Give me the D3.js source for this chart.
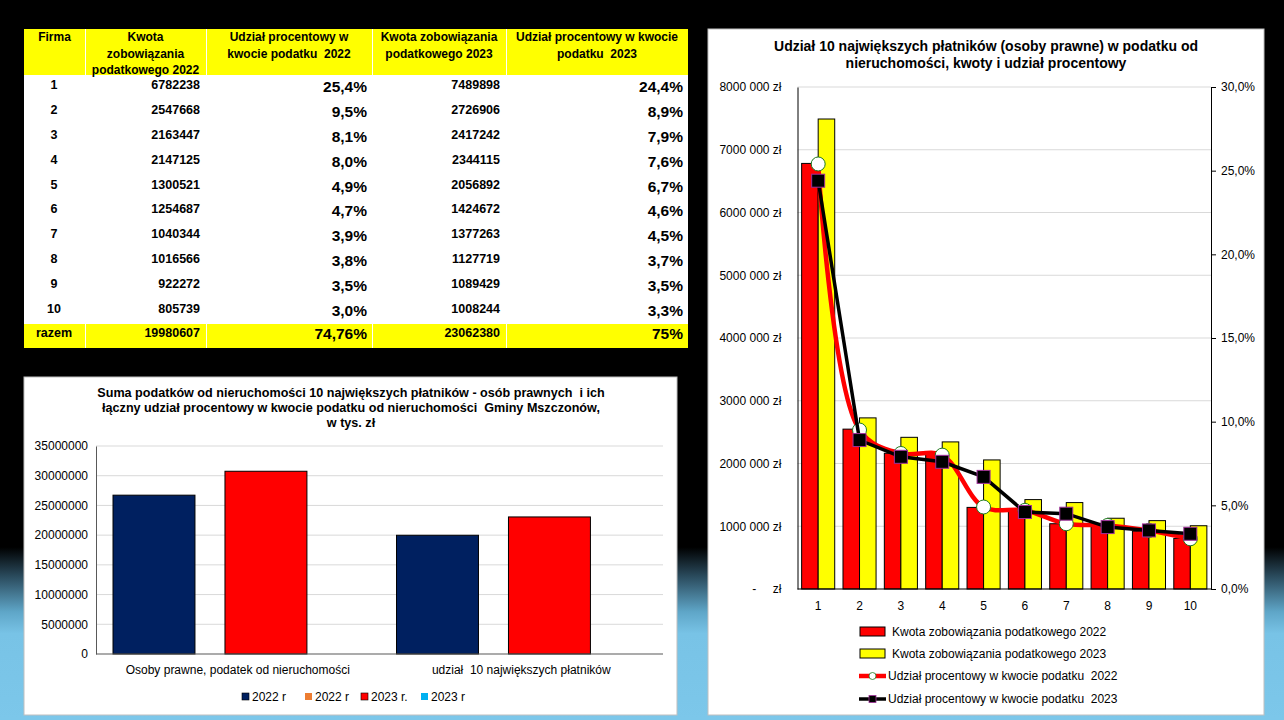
<!DOCTYPE html>
<html>
<head>
<meta charset="utf-8">
<script src="https://cdn.jsdelivr.net/npm/d3@7"></script>
<style>
  html, body { margin: 0; padding: 0; }
  body {
    width: 1284px; height: 720px; overflow: hidden;
    background: linear-gradient(to bottom, #000 0%, #000 76%, #2a4a5c 80%, #5fa6c8 85%, #78c3e6 88%, #7cc7ea 100%);
  }
  text { white-space: pre; }
  .tbl { font-family: "Liberation Sans", Arial, sans-serif; font-weight: bold; fill: #000; }
  .ch { font-family: "Liberation Sans", Arial, sans-serif; fill: #000; }
</style>
</head>
<body>
<div id="chart"></div>
<script>
// ---- data ----
var firms = ["1", "2", "3", "4", "5", "6", "7", "8", "9", "10"];
var kwota2022 = [6782238, 2547668, 2163447, 2147125, 1300521, 1254687, 1040344, 1016566, 922272, 805739];
var kwota2023 = [7489898, 2726906, 2417242, 2344115, 2056892, 1424672, 1377263, 1127719, 1089429, 1008244];
var udzial2022 = [25.4, 9.5, 8.1, 8.0, 4.9, 4.7, 3.9, 3.8, 3.5, 3.0];
var udzial2023 = [24.4, 8.9, 7.9, 7.6, 6.7, 4.6, 4.5, 3.7, 3.5, 3.3];
var razemKwota2022 = 19980607, razemUdzial2022 = "74,76%";
var razemKwota2023 = 23062380, razemUdzial2023 = "75%";

var tableHeaders = [
  ["Firma"],
  ["Kwota", "zobowiązania", "podatkowego 2022"],
  ["Udział procentowy w", "kwocie podatku  2022"],
  ["Kwota zobowiązania", "podatkowego 2023"],
  ["Udział procentowy w kwocie", "podatku  2023"]
];

var sumCategories = ["Osoby prawne, podatek od nieruchomości", "udział  10 największych płatników"];
var sumSeriesNames = ["2022 r", "2022 r", "2023 r.", "2023 r"];
var sum2022 = [26726000, 19980607];
var sum2023 = [30750000, 23062380];
var sumTicks = [0, 5000000, 10000000, 15000000, 20000000, 25000000, 30000000, 35000000];

var sumTitle = ["Suma podatków od nieruchomości 10 największych płatników - osób prawnych  i ich",
                "łączny udział procentowy w kwocie podatku od nieruchomości  Gminy Mszczonów,",
                "w tys. zł"];
var shareTitle = ["Udział 10 największych płatników (osoby prawne) w podatku od",
                  "nieruchomości, kwoty i udział procentowy"];
var shareLegend = ["Kwota zobowiązania podatkowego 2022", "Kwota zobowiązania podatkowego 2023",
                   "Udział procentowy w kwocie podatku  2022", "Udział procentowy w kwocie podatku  2023"];

var svg = d3.select("#chart").append("svg")
    .attr("width", 1284)
    .attr("height", 720);

// ================= table =================
var colX = [24, 85, 206, 372, 506, 688];
var tHeadTop = 29, tHeadBot = 75, tBodyBot = 323, tBot = 348;
var tbl = svg.append("g").attr("class", "tbl");

tbl.append("rect").attr("x", colX[0]).attr("y", tHeadTop)
    .attr("width", colX[5] - colX[0]).attr("height", tBot - tHeadTop).attr("fill", "#fff");

[tHeadTop, tBodyBot].forEach(function(y0, k) {
  var h = k === 0 ? tHeadBot - tHeadTop : tBot - tBodyBot;
  for (var i = 0; i < 5; i++) {
    tbl.append("rect")
        .attr("x", colX[i] + (i ? 1 : 0)).attr("y", y0 + (k ? 1 : 0))
        .attr("width", colX[i + 1] - colX[i] - (i ? 1 : 0)).attr("height", h - (k ? 1 : 0))
        .attr("fill", "#ffff00");
  }
});

tableHeaders.forEach(function(lines, i) {
  var cx = (colX[i] + colX[i + 1]) / 2;
  lines.forEach(function(l, j) {
    tbl.append("text").attr("x", cx).attr("y", 41 + j * 16.5)
        .attr("text-anchor", "middle").attr("font-size", "12px").text(l);
  });
});

var rowY = d3.scaleBand().domain(firms).range([tHeadBot, tBodyBot]);
var pctFmt = function(v) { return d3.format(".1f")(v).replace(".", ",") + "%"; };

firms.forEach(function(f, i) {
  var y = rowY(f) + rowY.bandwidth() / 2 + 2;
  tbl.append("text").attr("x", 54).attr("y", y).attr("text-anchor", "middle").attr("font-size", "12.5px").text(f);
  tbl.append("text").attr("x", 200).attr("y", y).attr("text-anchor", "end").attr("font-size", "12.5px").text(kwota2022[i]);
  tbl.append("text").attr("x", 367).attr("y", y + 3).attr("text-anchor", "end").attr("font-size", "15.5px").text(pctFmt(udzial2022[i]));
  tbl.append("text").attr("x", 500).attr("y", y).attr("text-anchor", "end").attr("font-size", "12.5px").text(kwota2023[i]);
  tbl.append("text").attr("x", 683).attr("y", y + 3).attr("text-anchor", "end").attr("font-size", "15.5px").text(pctFmt(udzial2023[i]));
});

var ry = 337;
tbl.append("text").attr("x", 54).attr("y", ry).attr("text-anchor", "middle").attr("font-size", "12.5px").text("razem");
tbl.append("text").attr("x", 200).attr("y", ry).attr("text-anchor", "end").attr("font-size", "12.5px").text(razemKwota2022);
tbl.append("text").attr("x", 367).attr("y", ry + 2).attr("text-anchor", "end").attr("font-size", "15.5px").text(razemUdzial2022);
tbl.append("text").attr("x", 500).attr("y", ry).attr("text-anchor", "end").attr("font-size", "12.5px").text(razemKwota2023);
tbl.append("text").attr("x", 683).attr("y", ry + 2).attr("text-anchor", "end").attr("font-size", "15.5px").text(razemUdzial2023);

// ================= sum chart (bottom left) =================
var g1 = svg.append("g").attr("class", "ch");
g1.append("rect").attr("x", 24).attr("y", 377).attr("width", 653).attr("height", 338)
    .attr("fill", "#fff").attr("stroke", "#bfbfbf");

sumTitle.forEach(function(l, j) {
  g1.append("text").attr("x", 351).attr("y", 397 + j * 15).attr("text-anchor", "middle")
      .attr("font-size", "12.6px").attr("font-weight", "bold").text(l);
});

var y1 = d3.scaleLinear().domain([0, 35000000]).range([654, 446]);
var x1 = d3.scaleBand().domain(sumCategories).range([96, 663]);
var x1s = d3.scaleBand().domain(["2022", "2023"])
    .range([x1.bandwidth() * 0.06, x1.bandwidth() * 0.744]).paddingInner(0.268);

g1.append("g").selectAll("line").data(sumTicks.slice(1)).join("line")
    .attr("x1", 96).attr("x2", 663)
    .attr("y1", function(d) { return y1(d); }).attr("y2", function(d) { return y1(d); })
    .attr("stroke", "#d9d9d9");

var sumBars = [];
sumCategories.forEach(function(c, i) {
  sumBars.push({cat: c, s: "2022", v: sum2022[i], color: "#002060"});
  sumBars.push({cat: c, s: "2023", v: sum2023[i], color: "#ff0000"});
});
g1.append("g").selectAll("rect").data(sumBars).join("rect")
    .attr("x", function(d) { return x1(d.cat) + x1s(d.s); })
    .attr("y", function(d) { return y1(d.v); })
    .attr("width", x1s.bandwidth())
    .attr("height", function(d) { return y1(0) - y1(d.v); })
    .attr("fill", function(d) { return d.color; })
    .attr("stroke", "#000").attr("stroke-width", 1);

var ax1 = g1.append("g").attr("transform", "translate(96,0)")
    .call(d3.axisLeft(y1).tickValues(sumTicks).tickSize(0).tickPadding(8).tickFormat(d3.format("d")));
ax1.select(".domain").attr("stroke", "#595959");
ax1.selectAll("text").attr("font-size", "12px").attr("font-family", null).attr("fill", "#000");

g1.append("line").attr("x1", 96).attr("x2", 663).attr("y1", y1(0)).attr("y2", y1(0))
    .attr("stroke", "#595959").attr("stroke-width", 1.2);

var axx1 = g1.append("g").attr("transform", "translate(0,654)")
    .call(d3.axisBottom(x1).tickSize(0).tickPadding(11));
axx1.select(".domain").remove();
axx1.selectAll("text").attr("font-size", "12px").attr("font-family", null).attr("fill", "#000");

var legColors = ["#002060", "#ed7d31", "#ff0000", "#00b0f0"];
var legX = [242, 305, 361, 421];
sumSeriesNames.forEach(function(n, i) {
  g1.append("rect").attr("x", legX[i]).attr("y", 693).attr("width", 7).attr("height", 7)
      .attr("fill", legColors[i]).attr("stroke", i === 0 || i === 2 ? "#000" : "none").attr("stroke-width", 0.6);
  g1.append("text").attr("x", legX[i] + 10).attr("y", 701).attr("font-size", "12px").text(n);
});

// ================= share chart (right) =================
var g2 = svg.append("g").attr("class", "ch");
g2.append("rect").attr("x", 708).attr("y", 29).attr("width", 556).attr("height", 686)
    .attr("fill", "#fff").attr("stroke", "#bfbfbf");

shareTitle.forEach(function(l, j) {
  g2.append("text").attr("x", 986).attr("y", 51 + j * 16.5).attr("text-anchor", "middle")
      .attr("font-size", "14px").attr("font-weight", "bold").text(l);
});

var yL = d3.scaleLinear().domain([0, 8000000]).range([589, 87]);
var yR = d3.scaleLinear().domain([0, 30]).range([589, 87]);
var x2 = d3.scaleBand().domain(firms).range([797.5, 1211]).paddingInner(0.2).paddingOuter(0.1);
var x2s = d3.scaleBand().domain(["2022", "2023"]).range([0, x2.bandwidth()]);

g2.append("g").selectAll("line").data(d3.range(1000000, 8000001, 1000000)).join("line")
    .attr("x1", 797.5).attr("x2", 1211)
    .attr("y1", function(d) { return yL(d); }).attr("y2", function(d) { return yL(d); })
    .attr("stroke", "#d9d9d9");

var shareBars = [];
firms.forEach(function(f, i) {
  shareBars.push({f: f, s: "2022", v: kwota2022[i], color: "#ff0000"});
  shareBars.push({f: f, s: "2023", v: kwota2023[i], color: "#ffff00"});
});
g2.append("g").selectAll("rect").data(shareBars).join("rect")
    .attr("x", function(d) { return x2(d.f) + x2s(d.s); })
    .attr("y", function(d) { return yL(d.v); })
    .attr("width", x2s.bandwidth())
    .attr("height", function(d) { return yL(0) - yL(d.v); })
    .attr("fill", function(d) { return d.color; })
    .attr("stroke", "#000").attr("stroke-width", 1);

var zlFmt = function(v) { return v === 0 ? "-     zł" : (v / 1000) + " 000 zł"; };
var axL = g2.append("g").attr("transform", "translate(797.5,0)")
    .call(d3.axisLeft(yL).ticks(8).tickSize(0).tickPadding(16).tickFormat(zlFmt));
axL.select(".domain").attr("stroke", "#000");
axL.selectAll("text").attr("font-size", "12px").attr("font-family", null).attr("fill", "#000");

var axR = g2.append("g").attr("transform", "translate(1211,0)")
    .call(d3.axisRight(yR).tickValues([0, 5, 10, 15, 20, 25, 30]).tickSize(5).tickPadding(5)
      .tickFormat(function(d) { return d3.format(".1f")(d).replace(".", ",") + "%"; }));
axR.selectAll("line, .domain").attr("stroke", "#000");
axR.selectAll("text").attr("font-size", "12px").attr("font-family", null).attr("fill", "#000");

g2.append("line").attr("x1", 797.5).attr("x2", 1211).attr("y1", yL(0)).attr("y2", yL(0))
    .attr("stroke", "#000");

var axB = g2.append("g").attr("transform", "translate(0,589)")
    .call(d3.axisBottom(x2).tickSize(0).tickPadding(12));
axB.select(".domain").remove();
axB.selectAll("text").attr("font-size", "12px").attr("font-family", null).attr("fill", "#000");

var cx2 = function(i) { return x2(firms[i]) + x2.bandwidth() / 2; };
var line22 = d3.line().x(function(d, i) { return cx2(i); }).y(function(d) { return yR(d); })
    .curve(d3.curveCatmullRom.alpha(0.5));
var line23 = d3.line().x(function(d, i) { return cx2(i); }).y(function(d) { return yR(d); });

g2.append("path").attr("d", line22(udzial2022)).attr("fill", "none")
    .attr("stroke", "#ff0000").attr("stroke-width", 4.5);
g2.append("g").selectAll("circle").data(udzial2022).join("circle")
    .attr("cx", function(d, i) { return cx2(i); }).attr("cy", function(d) { return yR(d); })
    .attr("r", 7).attr("fill", "#fff").attr("stroke", "#1f7a1f").attr("stroke-width", 1);

g2.append("path").attr("d", line23(udzial2023)).attr("fill", "none")
    .attr("stroke", "#000").attr("stroke-width", 3.5);
g2.append("g").selectAll("rect").data(udzial2023).join("rect")
    .attr("x", function(d, i) { return cx2(i) - 6.5; }).attr("y", function(d) { return yR(d) - 6.5; })
    .attr("width", 13).attr("height", 13).attr("fill", "#000").attr("stroke", "#a0309a").attr("stroke-width", 1);

// legend
var legY = [632, 654, 676, 699];
shareLegend.forEach(function(n, i) {
  var y = legY[i];
  if (i < 2) {
    g2.append("rect").attr("x", 860).attr("y", y - 5).attr("width", 25).attr("height", 9)
        .attr("fill", i === 0 ? "#ff0000" : "#ffff00").attr("stroke", "#000").attr("stroke-width", 1);
    g2.append("text").attr("x", 892).attr("y", y + 4).attr("font-size", "12px").text(n);
  } else {
    g2.append("line").attr("x1", 859).attr("x2", 886).attr("y1", y).attr("y2", y)
        .attr("stroke", i === 2 ? "#ff0000" : "#000").attr("stroke-width", i === 2 ? 4.5 : 3.5);
    if (i === 2) {
      g2.append("circle").attr("cx", 872.5).attr("cy", y).attr("r", 3.5)
          .attr("fill", "#fff").attr("stroke", "#1f7a1f").attr("stroke-width", 0.8);
    } else {
      g2.append("rect").attr("x", 869).attr("y", y - 3.5).attr("width", 7).attr("height", 7)
          .attr("fill", "#000").attr("stroke", "#a0309a").attr("stroke-width", 0.8);
    }
    g2.append("text").attr("x", 888).attr("y", y + 4).attr("font-size", "12px").text(n);
  }
});
</script>
</body>
</html>
